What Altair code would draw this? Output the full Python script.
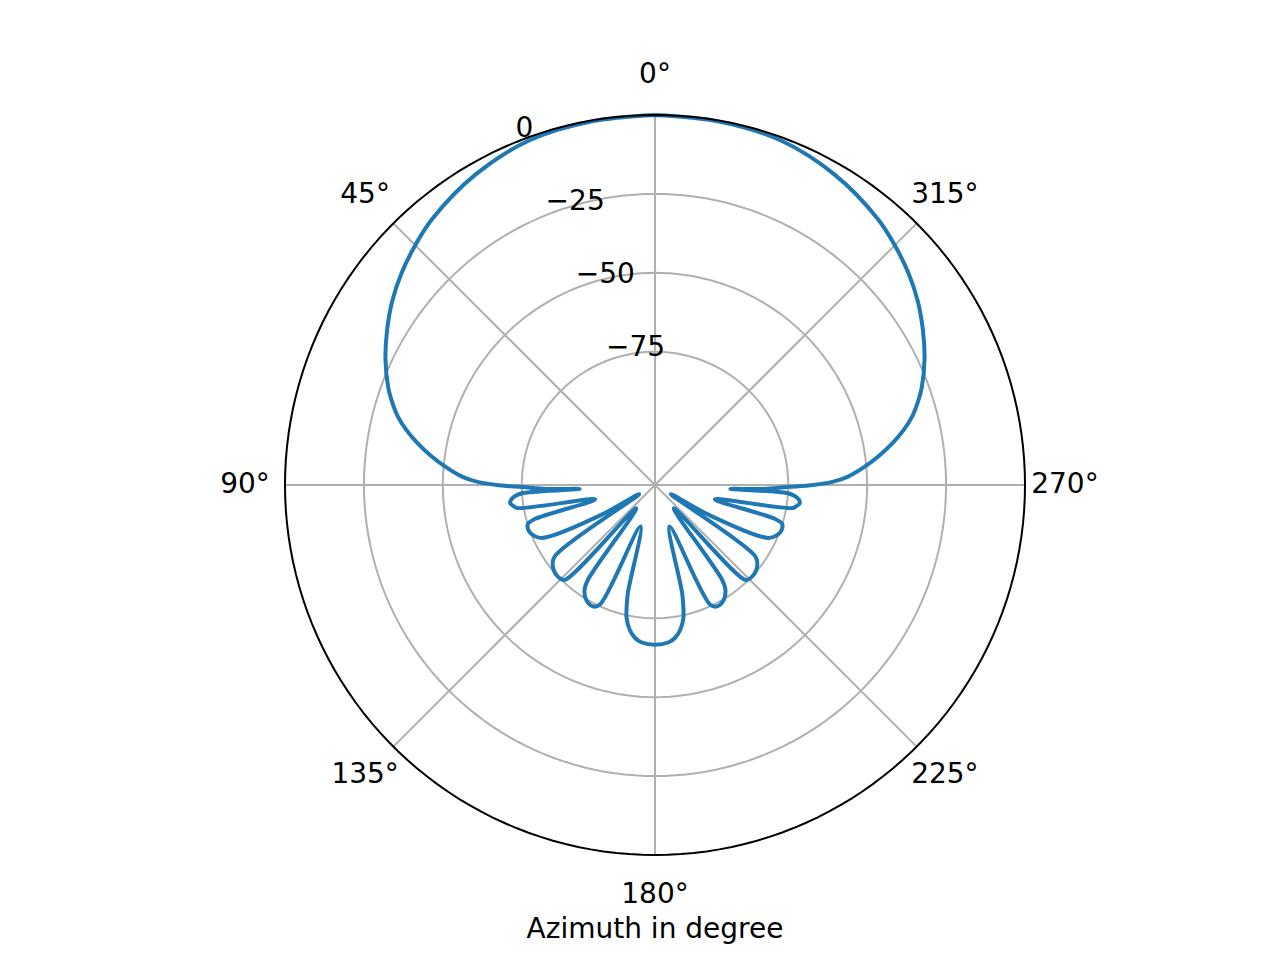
import altair as alt
import pandas as pd

# ---- data (azimuth in degrees, counter-clockwise from top; level in dB)
az_left = [0, 10, 20, 30, 40, 45, 50, 55, 60, 65, 70, 72.5, 75, 77.5, 80, 82.5, 85, 87.5, 89, 90,
           90.9, 92.1, 93.0, 93.5, 94.5, 95.8, 97.2, 98.6, 99.5, 103.5, 105.8, 107.0, 109.5,
           111.6, 115.0, 119.0, 120.1, 125.5, 128.6, 131.5, 134.3, 136.4, 141.1, 144.7, 146.1,
           149.1, 152.9, 155.2, 160.7, 165.9, 166.9, 168.0, 170.2, 172.5, 175.0, 180]
db_left = [0, -0.3, -1.0, -3.6, -7.3, -9.8, -12.5, -15.6, -19.2, -23.0, -27.3, -29.9, -32.8,
           -36.5, -40.8, -45.5, -50.5, -56.0, -61.0, -67.0, -75.3, -82.8, -93.3, -75.3, -72.8,
           -71.4, -71.0, -72.0, -73.0, -97.7, -77.6, -75.1, -74.6, -75.1, -77.5, -97.5, -111.4,
           -78.1, -75.8, -75.0, -75.0, -75.7, -107.7, -80.4, -77.2, -74.8, -74.0, -75.4, -103.3,
           -81.9, -77.6, -74.0, -70.5, -68.4, -67.2, -66.6]
az_right = [185.0, 187.5, 189.8, 192.0, 193.1, 194.1, 199.3, 204.8, 207.1, 210.9, 213.9, 215.3,
            218.9, 223.6, 225.7, 228.5, 231.4, 234.5, 239.9, 241.0, 245.0, 248.4, 250.5, 253.0,
            254.2, 256.5, 260.5, 261.4, 262.8, 264.2, 265.5, 266.5, 267.0, 267.9, 269.1, 270,
            271, 272.5, 275, 277.5, 280, 282.5, 285, 287.5, 290, 295, 300, 305, 310, 315, 320,
            330, 340, 350, 360]
db_right = [-67.2, -68.4, -70.5, -74.0, -77.6, -81.9, -103.3, -75.4, -74.0, -74.8, -77.2, -80.4,
            -107.7, -75.7, -75.0, -75.0, -75.8, -78.1, -111.4, -97.5, -77.5, -75.1, -74.6, -75.1,
            -77.6, -97.7, -73.0, -72.0, -71.0, -71.4, -72.8, -75.3, -93.3, -82.8, -75.3, -67.0,
            -61.0, -56.0, -50.5, -45.5, -40.8, -36.5, -32.8, -29.9, -27.3, -23.0, -19.2, -15.6,
            -12.5, -9.8, -7.3, -3.6, -1.0, -0.3, 0]

R_MIN = -117.2          # radial limit at the centre
R_MAX = 0.0             # radial limit at the rim
grid_levels = [-75, -50, -25]
r_tick_values = [0, -25, -50, -75]
r_tick_labels = ["0", "\u221225", "\u221250", "\u221275"]
spoke_angles = [0, 45, 90, 135, 180, 225, 270, 315]
spoke_labels = ["0°", "45°", "90°", "135°", "180°", "225°", "270°", "315°"]
x_title = "Azimuth in degree"

SPAN = R_MAX - R_MIN
FONT = "DejaVu Sans"
FS = 28

xs = alt.Scale(domain=[-SPAN, SPAN], nice=False, zero=False)
ys = alt.Scale(domain=[-SPAN, SPAN], nice=False, zero=False)

def enc_xy(ch):
    return ch.encode(x=alt.X("x:Q", scale=xs, axis=None), y=alt.Y("y:Q", scale=ys, axis=None))

polar_x = "-datum.r * sin(datum.az * PI / 180)"
polar_y = "datum.r * cos(datum.az * PI / 180)"

# ---- curve
curve_df = pd.DataFrame({"az": az_left + az_right, "db": db_left + db_right})
curve_df["i"] = range(len(curve_df))
curve = enc_xy(
    alt.Chart(curve_df)
    .transform_calculate(r=f"datum.db - ({R_MIN})")
    .transform_calculate(x=polar_x, y=polar_y)
    .mark_line(color="#1f77b4", strokeWidth=4, strokeJoin="round",
               interpolate="catmull-rom", clip=False)
).encode(order="i:Q")

# ---- grid circles
ring_rows = [(lvl, a) for lvl in grid_levels for a in range(0, 361, 2)]
ring_df = pd.DataFrame(ring_rows, columns=["lvl", "az"])
rings = enc_xy(
    alt.Chart(ring_df)
    .transform_calculate(r=f"datum.lvl - ({R_MIN})")
    .transform_calculate(x=polar_x, y=polar_y)
    .mark_line(color="#b0b0b0", strokeWidth=2)
).encode(detail="lvl:N", order="az:Q")

outer_df = pd.DataFrame({"az": list(range(0, 361, 2))})
outer = enc_xy(
    alt.Chart(outer_df)
    .transform_calculate(r=f"{SPAN}")
    .transform_calculate(x=polar_x, y=polar_y)
    .mark_line(color="black", strokeWidth=2)
).encode(order="az:Q")

# ---- spokes
spoke_df = pd.DataFrame({"az": spoke_angles, "label": spoke_labels})
spokes = (
    alt.Chart(spoke_df)
    .transform_calculate(r=f"{SPAN}", x0="0", y0="0")
    .transform_calculate(x=polar_x, y=polar_y)
    .mark_rule(color="#b0b0b0", strokeWidth=2)
    .encode(
        x=alt.X("x0:Q", scale=xs, axis=None),
        y=alt.Y("y0:Q", scale=ys, axis=None),
        x2="x:Q",
        y2="y:Q",
    )
)

spoke_text = enc_xy(
    alt.Chart(spoke_df)
    .transform_calculate(r=f"{SPAN} * 1.108")
    .transform_calculate(x=polar_x, y=polar_y)
    .mark_text(font=FONT, fontSize=FS, color="black", align="center", baseline="middle")
).encode(text="label:N")

# ---- radial tick labels (at 22.5°)
rt_df = pd.DataFrame({"lvl": r_tick_values, "label": r_tick_labels})
r_text = enc_xy(
    alt.Chart(rt_df)
    .transform_calculate(r=f"datum.lvl - ({R_MIN})", az="22.5")
    .transform_calculate(x=polar_x, y=polar_y)
    .mark_text(font=FONT, fontSize=FS, color="black", align="left", baseline="alphabetic",
               dx=2, dy=-6)
).encode(text="label:N")

# ---- x label
xl_df = pd.DataFrame({"label": [x_title]})
x_label = enc_xy(
    alt.Chart(xl_df)
    .transform_calculate(x="0", y=f"-{SPAN} * 1.203")
    .mark_text(font=FONT, fontSize=FS, color="black", align="center", baseline="middle")
).encode(text="label:N")

chart = (
    alt.layer(rings, spokes, curve, outer, spoke_text, r_text, x_label)
    .properties(
        width=740,
        height=740,
        autosize=alt.AutoSizeParams(type="none"),
        padding={"left": 277, "top": 107, "right": 100, "bottom": 100},
        background="white",
    )
    .configure_view(stroke=None)
)

chart.save("out.html", embed_options={"renderer": "svg", "actions": False})
